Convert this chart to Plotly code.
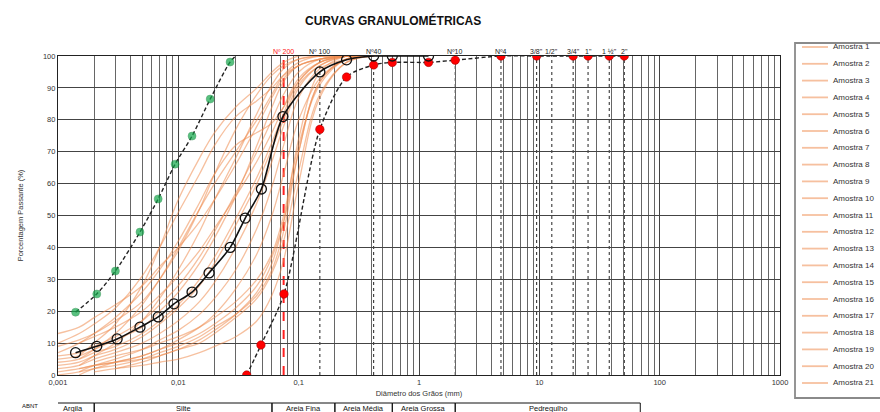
import math
import plotly.graph_objects as go

# ---------------- data ----------------
diam = [0.001, 0.0015, 0.002, 0.003, 0.005, 0.007, 0.01, 0.015, 0.02, 0.03,
        0.045, 0.06, 0.075, 0.1, 0.15, 0.25, 0.42]

amostra_01 = [13, 15, 18, 22, 28, 34, 40, 48, 55, 66, 78, 87, 93, 97, 99, 100, 100]
amostra_02 = [10, 13, 16, 21, 31, 40, 51, 63, 72, 81, 86, 90, 94, 97, 99, 100, 100]
amostra_03 = [7, 10, 13, 18, 26, 33, 42, 54, 63, 72, 76, 79, 84, 92, 98, 100, 100]
amostra_04 = [None, 5, 8, 13, 22, 30, 40, 52, 60, 70, 80, 88, 94, 98, 100, 100, 100]
amostra_05 = [None, 3, 6, 10, 17, 24, 33, 45, 55, 68, 82, 91, 96, 99, 100, 100, 100]
amostra_06 = [6, 7, 9, 12, 17, 22, 28, 37, 45, 57, 70, 80, 88, 95, 99, 100, 100]
amostra_07 = [4, 5, 7, 9, 13, 17, 22, 30, 37, 49, 62, 73, 82, 92, 98, 100, 100]
amostra_08 = [None, 10, 12, 15, 20, 25, 31, 39, 46, 56, 67, 76, 84, 93, 98, 100, 100]
amostra_09 = [2, 3, 5, 7, 10, 13, 17, 23, 29, 40, 54, 67, 78, 90, 97, 100, 100]
amostra_10 = [None, 1, 3, 5, 8, 11, 14, 19, 24, 33, 46, 59, 72, 87, 96, 99, 100]
amostra_11 = [0, 1, 2, 4, 6, 8, 11, 15, 19, 27, 38, 50, 63, 80, 93, 99, 100]
amostra_12 = [None, None, 4, 6, 8, 10, 12, 15, 18, 23, 30, 38, 50, 72, 91, 99, 100]
amostra_13 = [None, 2, 3, 4, 6, 8, 10, 13, 16, 21, 28, 37, 48, 70, 92, 99, 100]
amostra_14 = [1, 2, 3, 4, 5, 6, 8, 10, 13, 18, 24, 32, 42, 64, 88, 98, 100]
amostra_15 = [None, None, None, 2, 4, 6, 8, 11, 14, 19, 26, 35, 48, 74, 95, 100, 100]
amostra_16 = [9, 11, 13, 17, 23, 30, 39, 52, 63, 77, 88, 94, 97, 99, 100, 100, 100]
amostra_17 = [None, 6, 10, 16, 28, 40, 55, 68, 76, 84, 90, 95, 98, 100, 100, 100, 100]
amostra_18 = [3, 4, 6, 8, 12, 16, 21, 28, 35, 47, 60, 71, 80, 91, 97, 100, 100]
amostra_19 = [None, 0, 2, 3, 5, 7, 9, 12, 15, 19, 25, 33, 45, 70, 92, 99, 100]
amostra_20 = [5, 6, 8, 11, 15, 20, 26, 35, 43, 56, 72, 84, 92, 97, 99, 100, 100]
amostra_21 = [None, None, 1, 2, 3, 4, 5, 7, 9, 12, 17, 25, 36, 60, 87, 98, 100]

amostras = [amostra_01, amostra_02, amostra_03, amostra_04, amostra_05, amostra_06,
            amostra_07, amostra_08, amostra_09, amostra_10, amostra_11, amostra_12,
            amostra_13, amostra_14, amostra_15, amostra_16, amostra_17, amostra_18,
            amostra_19, amostra_20, amostra_21]
amostra_names = [f"Amostra {i}" for i in range(1, 22)]

media_diam = [0.0014, 0.0021, 0.0031, 0.0048, 0.0068, 0.0092, 0.013, 0.018, 0.027,
              0.036, 0.049, 0.074, 0.15, 0.25, 0.42, 0.6, 1.2]
media_pass = [7, 9, 11.3, 15, 18.2, 22.3, 26, 32, 40, 49.2, 58.3, 81, 95, 98.8, 100, 100, 100]

fino_diam = [0.0014, 0.0021, 0.0030, 0.0048, 0.0068, 0.0094, 0.013, 0.0184, 0.0269, 0.030]
fino_pass = [19.7, 25.4, 32.6, 44.8, 55.2, 66.1, 74.9, 86.5, 98.1, 100]

grosso_diam = [0.037, 0.0486, 0.0755, 0.15, 0.25, 0.42, 0.6, 1.2, 2.0, 4.8, 9.5,
               19.1, 25.4, 38.1, 50.8]
grosso_pass = [0, 9.4, 25.4, 77, 93.4, 97.2, 98, 98, 98.7, 100, 100, 100, 100, 100, 100]

sieve_names = ["Nº 200", "Nº 100", "Nº40", "Nº10", "Nº4", '3/8"', '1/2"', '3/4"',
               '1"', '1 ½"', '2"']
sieve_mm = [0.075, 0.15, 0.42, 2.0, 4.8, 9.5, 12.7, 19.1, 25.4, 38.1, 50.8]

class_names = ["Argila", "Silte", "Areia Fina", "Areia Média", "Areia Grossa", "Pedregulho"]
class_bounds = [0.00089, 0.002, 0.06, 0.2, 0.6, 2.0, 69]

x_tickvals = [0.001, 0.01, 0.1, 1, 10, 100, 1000]
x_ticktext = ["0,001", "0,01", "0,1", "1", "10", "100", "1000"]
y_tickvals = list(range(0, 101, 10))

# ---------------- figure ----------------
FONT = "Liberation Sans, Arial, sans-serif"
ORANGE = "rgba(238,140,80,0.55)"
W, H = 880, 412
ML, MR, MT, MB = 58, 100, 56, 37
PW, PH = W - ML - MR, H - MT - MB


def px_x(px):
    return (px - ML) / PW


def px_y(py):
    return (H - MB - py) / PH


fig = go.Figure()

for name, vals in zip(amostra_names, amostras):
    fig.add_trace(go.Scatter(
        x=diam, y=vals, name=name, mode="lines",
        line=dict(color=ORANGE, width=1.3, shape="spline", smoothing=1.0),
        showlegend=False))

fig.add_trace(go.Scatter(
    x=fino_diam, y=fino_pass, mode="lines+markers", showlegend=False,
    line=dict(color="#222222", width=1.4, dash="4px,2.5px", shape="spline", smoothing=0.8),
    marker=dict(color="#12a84a", size=[8] * (len(fino_diam) - 1) + [0],
                line=dict(color="#0d7a33", width=0.5))))

fig.add_trace(go.Scatter(
    x=grosso_diam, y=grosso_pass, mode="lines+markers", showlegend=False,
    line=dict(color="#222222", width=1.4, dash="4px,2.5px", shape="spline", smoothing=0.8),
    marker=dict(color="#ff0000", size=8.5, line=dict(color="#990000", width=0.5))))

fig.add_trace(go.Scatter(
    x=media_diam, y=media_pass, mode="lines+markers", showlegend=False,
    line=dict(color="#111111", width=1.6, shape="spline", smoothing=0.8),
    marker=dict(color="#111111", size=10, symbol="circle-open",
                line=dict(color="#111111", width=1.3))))

# sieve lines and labels
for name, mm in zip(sieve_names, sieve_mm):
    red = name == "Nº 200"
    fig.add_shape(type="line", xref="x", yref="y", x0=mm, x1=mm, y0=0, y1=100,
                  line=dict(color="#ff2020" if red else "#222222",
                            width=2 if red else 1, dash="dash" if red else "dot"),
                  layer="below")
    fig.add_annotation(x=math.log10(mm), y=100, xref="x", yref="y", text=name,
                       showarrow=False, yanchor="bottom", yshift=-1,
                       font=dict(size=7, color="#ff2020" if red else "#222222", family=FONT))

# classification table below the axis
for i, cname in enumerate(class_names):
    a, b = class_bounds[i], class_bounds[i + 1]
    fig.add_shape(type="rect", xref="x", yref="paper", x0=a, x1=b, y0=px_y(440), y1=px_y(403),
                  line=dict(color="#111111", width=1))
    fig.add_annotation(x=(math.log10(a) + math.log10(b)) / 2, y=px_y(408), xref="x",
                       yref="paper", text=cname, showarrow=False, yanchor="middle",
                       font=dict(size=7.5, color="#111111", family=FONT))
fig.add_annotation(x=px_x(20), y=px_y(406), xref="paper", yref="paper", text="ABNT",
                   showarrow=False, yanchor="middle",
                   font=dict(size=6, color="#111111", family=FONT))

fig.add_annotation(x=px_x(393), y=px_y(20), xref="paper", yref="paper",
                   text="<b>CURVAS GRANULOMÉTRICAS</b>", showarrow=False, yanchor="middle",
                   font=dict(size=12, color="#111111", family=FONT))

# legend box (built from the series names)
fig.add_shape(type="rect", xref="paper", yref="paper", x0=px_x(795), x1=px_x(900),
              y0=px_y(398), y1=px_y(43), line=dict(color="#8a8a8a", width=1.8),
              fillcolor="white", layer="above")
for i, name in enumerate(amostra_names):
    yy = px_y(47 + 16.8 * i)
    fig.add_shape(type="line", xref="paper", yref="paper", x0=px_x(802), x1=px_x(828),
                  y0=yy, y1=yy, line=dict(color=ORANGE, width=1.8), layer="above")
    fig.add_annotation(x=px_x(831), y=yy, xref="paper", yref="paper", text=name,
                       showarrow=False, xanchor="left", yanchor="middle",
                       font=dict(size=8, color="#333333", family=FONT))

fig.update_xaxes(type="log", range=[-3, 3], tickvals=x_tickvals, ticktext=x_ticktext,
                 showgrid=True, gridcolor="#444444", gridwidth=1,
                 minor=dict(dtick="D1", showgrid=True, gridcolor="#666666", gridwidth=0.8),
                 showline=True, linecolor="#222222", linewidth=1.2, mirror=True,
                 ticks="", tickfont=dict(size=7.5, color="#333333", family=FONT),
                 title=dict(text="Diâmetro dos Grãos (mm)", standoff=4,
                            font=dict(size=7.5, color="#333333", family=FONT)),
                 zeroline=False)
fig.update_yaxes(range=[0, 100], tickvals=y_tickvals,
                 showgrid=True, gridcolor="#444444", gridwidth=1,
                 showline=True, linecolor="#222222", linewidth=1.2, mirror=True,
                 ticks="", tickfont=dict(size=7.5, color="#333333", family=FONT),
                 title=dict(text="Porcentagem Passante (%)", standoff=18,
                            font=dict(size=7.5, color="#333333", family=FONT)),
                 zeroline=False)

fig.update_layout(
    width=W, height=H,
    margin=dict(l=ML, r=MR, t=MT, b=MB, autoexpand=False),
    paper_bgcolor="white", plot_bgcolor="white",
    font=dict(family=FONT),
    showlegend=False,
)

fig.write_html("out.html")
